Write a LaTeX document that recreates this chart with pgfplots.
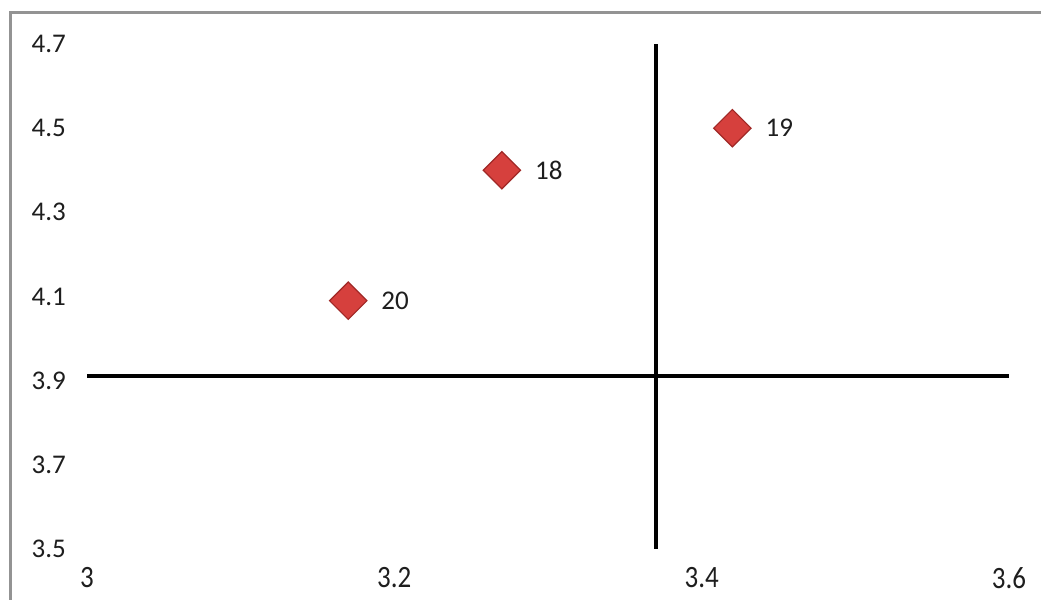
\documentclass[border=0pt]{standalone}
\usepackage{pgfplots}
\pgfplotsset{compat=1.18}
\usepackage{fontspec}
\setmainfont{Carlito}
\definecolor{mk}{HTML}{D6403D}
\definecolor{mkd}{HTML}{A02826}
\definecolor{txt}{HTML}{1E1E1E}
\begin{document}
\begin{tikzpicture}
\path[use as bounding box] (0,0) rectangle (520.5pt,300pt);
\fill[white] (0,0) rectangle (520.5pt,300pt);
\draw[color=gray!85, line width=1.5pt] (5pt,-10pt) rectangle (530pt,293.5pt);
\begin{axis}[
  at={(43.5pt,25.5pt)}, anchor=south west,
  scale only axis, width=461pt, height=252.5pt,
  xmin=3, xmax=3.6, ymin=3.5, ymax=4.7,
  xtick={3,3.2,3.4,3.6}, ytick={3.5,3.7,3.9,4.1,4.3,4.5,4.7},
  xticklabels={3,3.2,3.4,3.6},
  yticklabels={3.5,3.7,3.9,4.1,4.3,4.5,4.7},
  axis line style={draw=none}, major tick length=0pt,
  tick label style={font=\fontsize{13.5pt}{16pt}\selectfont, text=txt},
  yticklabel style={xshift=-7pt},
  xticklabel style={yshift=-5pt, yscale=1.15},
  clip=false,
]
\addplot[black, line width=2pt] coordinates {(3,3.91) (3.6,3.91)};
\addplot[black, line width=2pt] coordinates {(3.37,3.5) (3.37,4.7)};
\addplot[only marks, mark=square*, mark size=6.6pt,
  mark options={rotate=45, fill=mk, draw=mkd, line width=0.6pt},
  nodes near coords, point meta=explicit symbolic,
  every node near coord/.style={anchor=west, xshift=13pt, yshift=0pt, font=\fontsize{13.5pt}{16pt}\selectfont, text=txt}]
  table[meta=l] {
x y l
3.17 4.09 20
3.27 4.40 18
3.42 4.50 19
};
\end{axis}
\end{tikzpicture}
\end{document}
